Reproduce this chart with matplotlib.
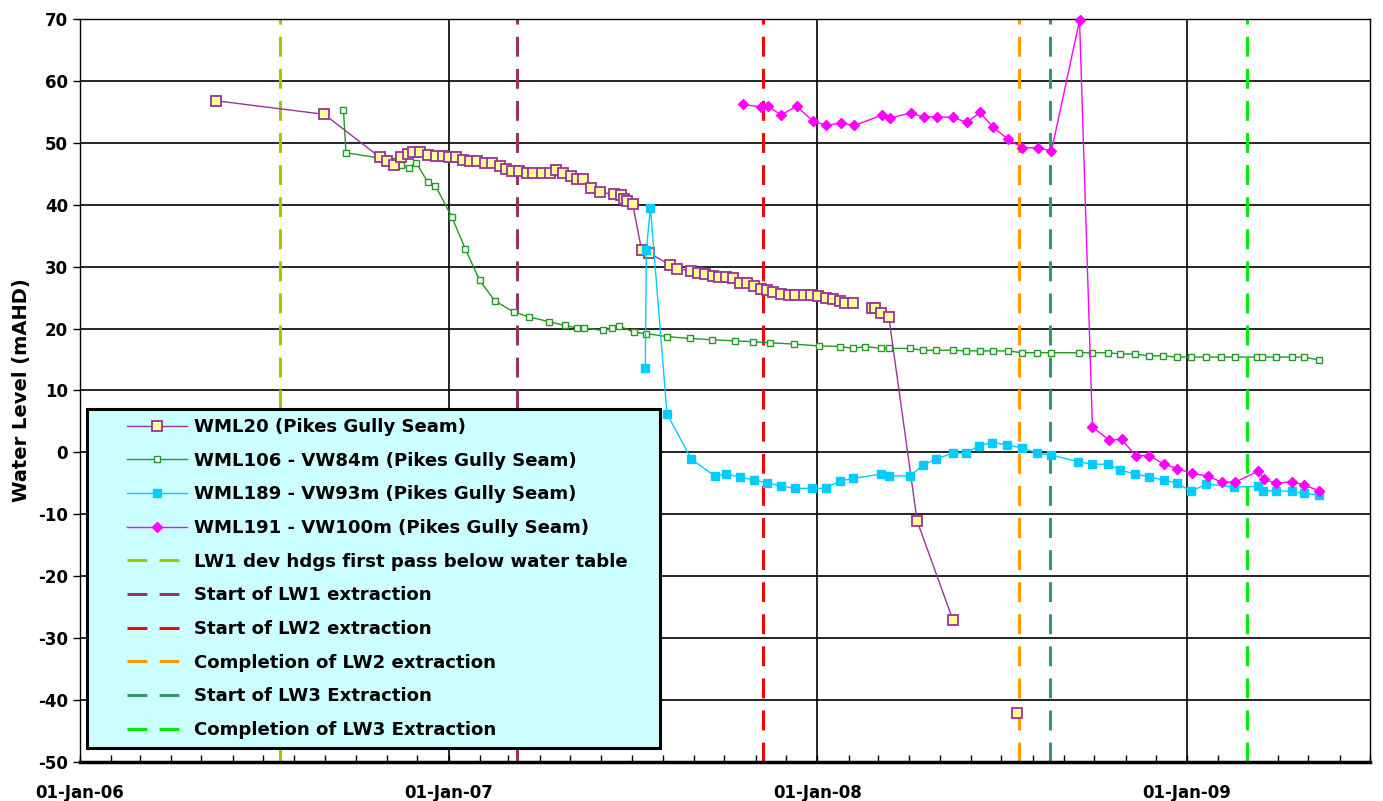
import matplotlib
matplotlib.use('Agg')
import matplotlib.pyplot as plt
import matplotlib.dates as mdates
from matplotlib.lines import Line2D
from matplotlib.legend_handler import HandlerLine2D
import numpy as np
from datetime import datetime

nan = float('nan')

# ---- data (x in decimal years) ----
wml20_x = [2006.368, 2006.662, 2006.812, 2006.832, 2006.850, 2006.871, 2006.888, 2006.902, 2006.922, 2006.943,
           2006.964, 2006.985, 2007.001, 2007.020, 2007.038, 2007.056, 2007.076, 2007.098, 2007.117, 2007.137,
           2007.155, 2007.172, 2007.191, 2007.212, 2007.229, 2007.252, 2007.273, 2007.289, 2007.308, 2007.331,
           2007.347, 2007.362, 2007.385, 2007.410, 2007.446, 2007.465, 2007.474, 2007.483, 2007.498, 2007.522,
           2007.543, 2007.598, 2007.618, 2007.656, 2007.674, 2007.695, 2007.715, 2007.733, 2007.751, 2007.770,
           2007.790, 2007.809, 2007.827, 2007.846, 2007.861, 2007.879, 2007.899, 2007.921, 2007.939, 2007.962,
           2007.980, 2008.000, 2008.021, 2008.040, 2008.059, 2008.073, 2008.096, 2008.120, 2008.147, 2008.156,
           2008.172, 2008.192, 2008.269, 2008.366, 2008.450, 2008.539]
wml20_y = [56.8, 54.6, 47.7, 47.0, 46.4, 47.7, 48.2, 48.5, 48.5, 48.1,
           47.9, 47.9, 47.7, 47.7, 47.2, 47.0, 47.0, 46.8, 46.7, 46.3,
           45.7, 45.5, 45.5, 45.2, 45.2, 45.2, 45.1, 45.6, 45.1, 44.6,
           44.2, 44.1, 42.7, 42.0, 41.7, 41.6, 41.0, 40.6, 40.1, 32.7,
           32.2, 30.3, 29.7, 29.3, 29.0, 28.8, 28.5, 28.3, 28.3, 28.1,
           27.4, 27.4, 26.9, 26.4, 26.2, 25.9, 25.6, 25.4, 25.4, 25.4,
           25.4, 25.2, 24.9, 24.7, 24.4, 24.2, 24.2, nan, 23.3, 23.3,
           22.5, 21.9, -11.1, -27.1, nan, -42.1]

wml106_x = [2006.714, 2006.721, 2006.827, 2006.850, 2006.871, 2006.892, 2006.911, 2006.942, 2006.963, 2007.008,
            2007.044, 2007.083, 2007.124, 2007.175, 2007.216, 2007.272, 2007.314, 2007.347, 2007.365, 2007.418,
            2007.442, 2007.462, 2007.501, 2007.534, 2007.591, 2007.654, 2007.714, 2007.776, 2007.823, 2007.871,
            2007.934, 2008.002, 2008.061, 2008.095, 2008.127, 2008.172, 2008.192, 2008.249, 2008.285, 2008.321,
            2008.366, 2008.402, 2008.438, 2008.474, 2008.514, 2008.554, 2008.595, 2008.631, 2008.708, 2008.744,
            2008.787, 2008.819, 2008.859, 2008.896, 2008.935, 2008.972, 2009.012, 2009.053, 2009.092, 2009.130,
            2009.191, 2009.203, 2009.241, 2009.286, 2009.318, 2009.359]
wml106_y = [55.3, 48.4, 47.4, 47.0, 46.4, 46.0, 46.8, 43.7, 43.1, 38.0,
            32.9, 27.8, 24.5, 22.7, 21.9, 21.1, 20.5, 20.1, 20.1, 19.7,
            20.1, 20.4, 19.4, 19.2, 18.7, 18.4, 18.2, 18.0, 17.9, 17.7,
            17.5, 17.2, 17.1, 16.8, 17.1, 16.8, 16.8, 16.8, 16.5, 16.5,
            16.5, 16.4, 16.4, 16.4, 16.4, 16.1, 16.1, 16.1, 16.1, 16.1,
            16.1, 15.9, 15.9, 15.6, 15.6, 15.4, 15.4, 15.4, 15.4, 15.4,
            15.4, 15.4, 15.4, 15.4, 15.4, 14.9]

wml189_x = [2007.532, 2007.535, 2007.546, 2007.591, 2007.657, 2007.720, 2007.751, 2007.790, 2007.828, 2007.862,
            2007.900, 2007.937, 2007.985, 2008.021, 2008.059, 2008.096, 2008.172, 2008.192, 2008.249, 2008.286,
            2008.319, 2008.366, 2008.402, 2008.436, 2008.473, 2008.513, 2008.554, 2008.595, 2008.631, 2008.706,
            2008.742, 2008.786, 2008.818, 2008.859, 2008.896, 2008.937, 2008.972, 2009.011, 2009.053, 2009.128,
            2009.193, 2009.207, 2009.241, 2009.286, 2009.318, 2009.359]
wml189_y = [13.7, 32.7, 39.5, 6.2, -1.1, -3.8, -3.5, -4.0, -4.5, -4.9,
            -5.4, -5.8, -5.8, -5.8, -4.6, -4.2, -3.5, -3.8, -3.8, -2.0,
            -1.1, -0.1, -0.1, 1.1, 1.6, 1.2, 0.7, -0.1, -0.4, -1.5,
            -1.9, -1.9, -2.8, -3.5, -3.9, -4.5, -4.9, -6.3, -5.1, -5.6,
            -5.5, -6.2, -6.2, -6.3, -6.6, -6.9]

wml191_x = [2007.796, 2007.847, 2007.865, 2007.900, 2007.942, 2007.987, 2008.023, 2008.063, 2008.099, 2008.174,
            2008.194, 2008.251, 2008.287, 2008.324, 2008.367, 2008.403, 2008.439, 2008.475, 2008.515, 2008.554,
            2008.596, 2008.633, 2008.709, 2008.744, 2008.789, 2008.823, 2008.861, 2008.897, 2008.938, 2008.974,
            2009.013, 2009.056, 2009.094, 2009.131, 2009.194, 2009.208, 2009.241, 2009.286, 2009.318, 2009.359]
wml191_y = [56.2, 55.8, 55.9, 54.5, 55.9, 53.5, 52.8, 53.2, 52.8, 54.5,
            54.0, 54.8, 54.2, 54.2, 54.1, 53.3, 54.9, 52.5, 50.6, 49.2,
            49.2, 48.7, 69.8, 4.1, 2.0, 2.1, -0.5, -0.5, -1.9, -2.6,
            -3.4, -3.8, -4.8, -4.8, -3.0, -4.3, -5.0, -4.7, -5.3, -6.2]

event_labels = ['LW1 dev hdgs first pass below water table', 'Start of LW1 extraction',
                'Start of LW2 extraction', 'Completion of LW2 extraction',
                'Start of LW3 Extraction', 'Completion of LW3 Extraction']
event_dates = ['2006-07-18', '2007-03-10', '2007-11-08', '2008-07-19', '2008-08-18', '2009-03-01']
event_colors = ['#99CC00', '#993366', '#FF0000', '#FF9900', '#339966', '#00EE00']

series_labels = ['WML20 (Pikes Gully Seam)', 'WML106 - VW84m (Pikes Gully Seam)',
                 'WML189 - VW93m (Pikes Gully Seam)', 'WML191 - VW100m (Pikes Gully Seam)']

y_ticks = list(range(-50, 71, 10))
x_start, x_end = '2006-01-01', '2009-07-01'

BASE = mdates.date2num(datetime(2006, 1, 1))


def yr2num(v):
    return BASE + (np.asarray(v, dtype=float) - 2006.0) * 365.25


plt.rcParams['font.family'] = ['DejaVu Sans']
plt.rcParams['font.weight'] = 'bold'
plt.rcParams['axes.unicode_minus'] = False

fig = plt.figure(figsize=(13.83, 8.01), dpi=100)
ax = fig.add_axes([80 / 1383, 1 - 762 / 801, 1290 / 1383, 743 / 801])

ax.set_xlim(mdates.datestr2num(x_start), mdates.datestr2num(x_end))
ax.set_ylim(-50, 70)
ax.set_yticks(y_ticks)

ax.grid(True, which='major', color='black', linewidth=1.2, zorder=0)
ax.set_axisbelow(True)

handles = []
for d, c, lab in zip(event_dates, event_colors, event_labels):
    ln = ax.axvline(mdates.datestr2num(d), color=c, linewidth=2.2, dashes=(6.5, 4.0), zorder=2, label=lab)
    handles.append(ln)

l20, = ax.plot(yr2num(wml20_x), wml20_y, color='#993399', linewidth=1.0, marker='s', markersize=6.5,
               markerfacecolor='#FFFF99', markeredgecolor='#993399', markeredgewidth=1.3, zorder=4,
               label=series_labels[0])
l106, = ax.plot(yr2num(wml106_x), wml106_y, color='#229922', linewidth=1.0, marker='s', markersize=3.8,
                markerfacecolor='white', markeredgecolor='#229922', markeredgewidth=1.0, zorder=3,
                label=series_labels[1])
l189, = ax.plot(yr2num(wml189_x), wml189_y, color='#00CCFF', linewidth=1.0, marker='s', markersize=6.0,
                markerfacecolor='#00CCFF', markeredgecolor='#00CCFF', zorder=4, label=series_labels[2])
l191, = ax.plot(yr2num(wml191_x), wml191_y, color='#FF00FF', linewidth=1.0, marker='D', markersize=5.5,
                markerfacecolor='#FF00FF', markeredgecolor='#FF00FF', zorder=5, clip_on=False,
                label=series_labels[3])

ax.xaxis.set_major_locator(mdates.YearLocator())
ax.xaxis.set_minor_locator(mdates.MonthLocator())
ax.xaxis.set_major_formatter(mdates.DateFormatter('%d-%b-%y'))
ax.tick_params(axis='x', which='both', direction='in', length=5, width=1, pad=16, labelsize=12)
ax.tick_params(axis='y', which='major', direction='out', length=5, width=1, labelsize=12)
for lab in ax.get_xticklabels() + ax.get_yticklabels():
    lab.set_fontweight('bold')

for s in ['left', 'right', 'top']:
    ax.spines[s].set_linewidth(1.0)
    ax.spines[s].set_color('black')
ax.spines['bottom'].set_linewidth(2.5)

ax.set_ylabel('Water Level (mAHD)', fontsize=14, fontweight='bold', labelpad=5)

all_handles = [l20, l106, l189, l191] + handles
x0 = 7 / 1290
y0 = (762 - 749) / 743
w = (660 - 87) / 1290
h = (749 - 409) / 743
leg = ax.legend(handles=all_handles, loc='upper left', bbox_to_anchor=(x0, y0, w, h), mode='expand',
                borderaxespad=0, prop={'weight': 'bold', 'size': 13.1}, frameon=True,
                fancybox=False, framealpha=1, facecolor='#CCFFFF', edgecolor='black',
                handlelength=5.0, handletextpad=0.38, labelspacing=0.86, borderpad=0.5,
                handler_map={Line2D: HandlerLine2D(xpad=1.7)})
leg.get_frame().set_linewidth(2.2)
leg.set_zorder(10)

fig.savefig('out.png', dpi=100, facecolor='white')
